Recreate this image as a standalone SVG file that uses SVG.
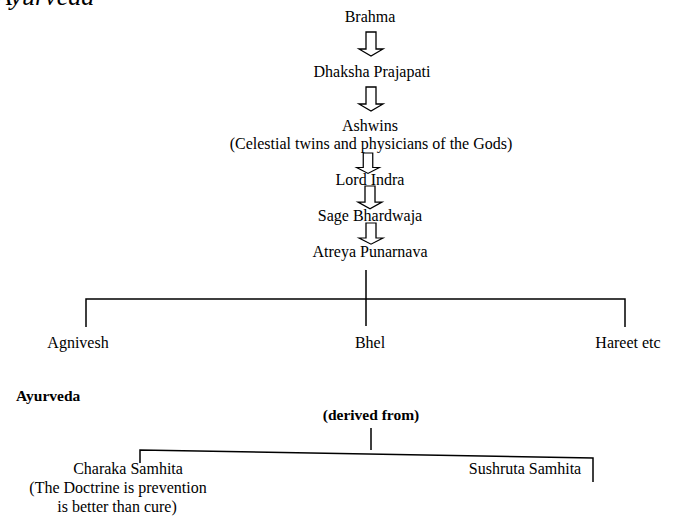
<svg xmlns="http://www.w3.org/2000/svg" width="674" height="516" viewBox="0 0 674 516">
<style>
text{font-family:"Liberation Serif","Times New Roman",serif;font-size:16px;fill:#000}
.c{text-anchor:middle}
.b{font-weight:bold}
.ln{stroke:#000;stroke-width:1.5;fill:none}
.ar{stroke:#000;stroke-width:1.3;fill:none;stroke-linejoin:miter}
</style>
<defs>
<path id="arr" d="M-5,0 H5 V17 H12 L0,24 L-12,17 H-5 Z"/>
</defs>
<rect width="674" height="516" fill="#fff"/>
<text x="-4" y="5" style="font-style:italic;font-size:26px">Ayurveda</text>
<g id="brahma"><text class="c" x="370" y="22">Brahma</text></g>
<g id="dhaksha"><text class="c" x="372" y="77">Dhaksha Prajapati</text></g>
<g id="ashwins"><text class="c" x="370" y="131">Ashwins</text><text class="c" x="371" y="149">(Celestial twins and physicians of the Gods)</text></g>
<g id="indra"><text class="c" x="370" y="185">Lord Indra</text></g>
<g id="bhardwaja"><text class="c" x="370" y="221">Sage Bhardwaja</text></g>
<g id="atreya"><text class="c" x="370" y="257">Atreya Punarnava</text></g>
<g id="agnivesh"><text class="c" x="78" y="348">Agnivesh</text></g>
<g id="bhel"><text class="c" x="370" y="348">Bhel</text></g>
<g id="hareet"><text class="c" x="628" y="348">Hareet etc</text></g>
<g id="ayurveda"><text class="b" x="16" y="401" style="font-size:15.5px">Ayurveda</text></g>
<g id="derived"><text class="c b" x="371" y="420" style="font-size:15.5px">(derived from)</text></g>
<g id="charaka"><text class="c" x="128" y="474">Charaka Samhita</text><text class="c" x="118" y="493">(The Doctrine is prevention</text><text class="c" x="117" y="512">is better than cure)</text></g>
<g id="sushruta"><text class="c" x="525" y="474">Sushruta Samhita</text></g>
<g id="connectors">
<use href="#arr" class="ar" transform="translate(371,32)"/>
<use href="#arr" class="ar" transform="translate(371,87)"/>
<use href="#arr" class="ar" transform="translate(368,153) scale(0.95,0.85)"/>
<use href="#arr" class="ar" transform="translate(370,186) scale(1,0.95)"/>
<use href="#arr" class="ar" transform="translate(371,223) scale(1,0.88)"/>
<path class="ln" d="M366,270 V326 M86,327 V299 H625 V327"/>
<path class="ln" d="M371,428 V450 M140,463 V450 L593,458 V482"/>
</g>
</svg>
